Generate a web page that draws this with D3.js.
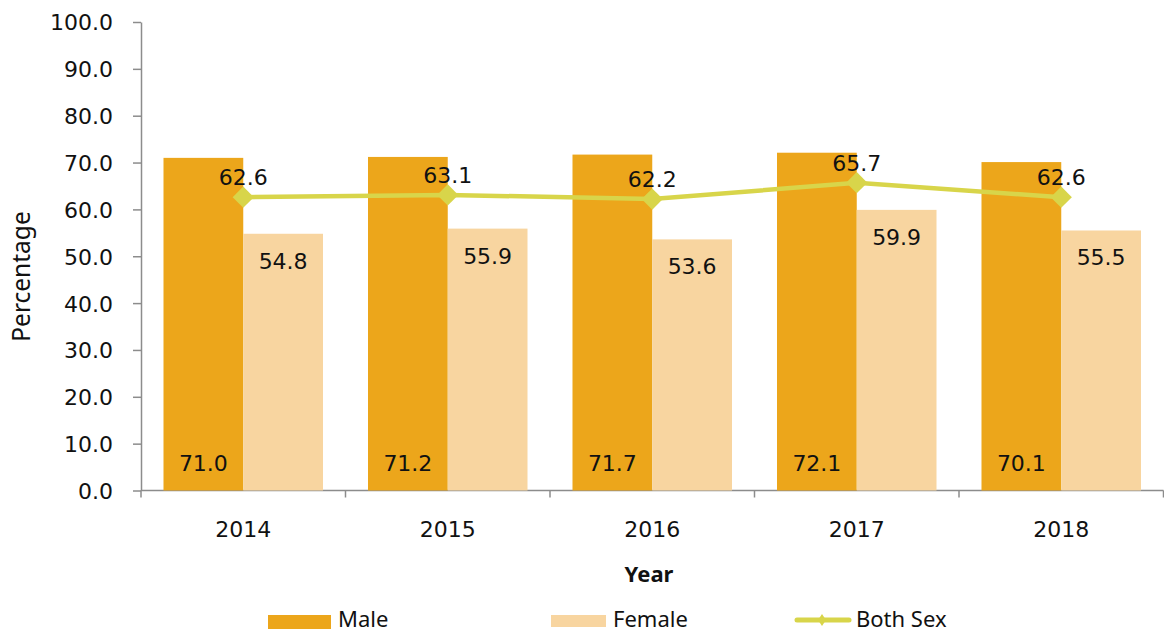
<html lang="en">
<head>
  <meta charset="utf-8"/>
  <script src="https://d3js.org/d3.v7.min.js"></script>
  <style>
  body { margin: 0; background: white; }
  * { font-family: "Noto Sans", sans-serif; }
  .axis path, .axis line { stroke: #8c8c8c; stroke-width: 1.5px; }
  .axis text, .num { font-family: "DejaVu Sans", sans-serif; font-size: 22px; fill: #111; }
  .leg { font-size: 22px; fill: #111; }
  </style>
</head>
<body>
  <svg id="chart" width="1164" height="634"></svg>
  <script>
    const years = ["2014", "2015", "2016", "2017", "2018"];
    const male = [71.0, 71.2, 71.7, 72.1, 70.1];
    const female = [54.8, 55.9, 53.6, 59.9, 55.5];
    const both = [62.6, 63.1, 62.2, 65.7, 62.6];
    const yTicks = [0, 10, 20, 30, 40, 50, 60, 70, 80, 90, 100];

    const svg = d3.select("#chart");
    const x = d3.scaleBand().domain(years).range([141, 1163.5]);
    const y = d3.scaleLinear().domain([0, 100]).range([490.5, 22]);
    const bw = x.bandwidth();
    const pad = bw * 0.11;
    const barW = (bw - 2 * pad) / 2;
    const cx = d => x(d) + bw / 2;

    // y axis
    const yAxis = svg.append("g").attr("class", "axis").attr("transform", "translate(141,0)")
      .call(d3.axisLeft(y).tickValues(yTicks).tickFormat(d3.format(".1f")).tickSize(8).tickPadding(20).tickSizeOuter(0));
    yAxis.selectAll("text").attr("dy", "0.36em");

    // x axis: ticks at category boundaries
    const xg = svg.append("g").attr("class", "axis");
    xg.append("line").attr("x1", 141).attr("x2", 1163.5).attr("y1", y(0)).attr("y2", y(0));
    const edges = years.map(d => x(d)).concat([x(years[years.length - 1]) + bw]);
    xg.selectAll("line.tk").data(edges).join("line").attr("class", "tk")
      .attr("x1", d => d).attr("x2", d => d)
      .attr("y1", y(0)).attr("y2", y(0) + 7);
    xg.selectAll("text").data(years).join("text")
      .attr("x", d => cx(d)).attr("y", 537).attr("text-anchor", "middle")
      .text(d => d);

    // bars
    svg.selectAll("rect.male").data(years).join("rect").attr("class", "male")
      .attr("x", d => x(d) + pad).attr("width", barW)
      .attr("y", (d, i) => y(male[i])).attr("height", (d, i) => y(0) - y(male[i]))
      .attr("fill", "#eca61b");
    svg.selectAll("rect.female").data(years).join("rect").attr("class", "female")
      .attr("x", d => x(d) + pad + barW).attr("width", barW)
      .attr("y", (d, i) => y(female[i])).attr("height", (d, i) => y(0) - y(female[i]))
      .attr("fill", "#f8d5a0");

    // bar labels
    svg.selectAll("text.ml").data(years).join("text").attr("class", "num ml")
      .attr("x", d => x(d) + pad + barW / 2).attr("y", 470.5).attr("text-anchor", "middle")
      .text((d, i) => male[i].toFixed(1));
    svg.selectAll("text.fl").data(years).join("text").attr("class", "num fl")
      .attr("x", d => x(d) + pad + barW * 1.5).attr("y", (d, i) => y(female[i]) + 35).attr("text-anchor", "middle")
      .text((d, i) => female[i].toFixed(1));

    // line
    const line = d3.line().x((d, i) => cx(years[i])).y(d => y(d));
    svg.append("path").datum(both).attr("d", line).attr("fill", "none")
      .attr("stroke", "#d8d54a").attr("stroke-width", 4.5);
    svg.selectAll("path.dia").data(both).join("path").attr("class", "dia")
      .attr("transform", (d, i) => "translate(" + cx(years[i]) + "," + y(d) + ") rotate(45)")
      .attr("d", "M-7.5,-7.5H7.5V7.5H-7.5Z").attr("fill", "#d8d54a");
    svg.selectAll("text.bl").data(both).join("text").attr("class", "num bl")
      .attr("x", (d, i) => cx(years[i])).attr("y", d => y(d) - 12).attr("text-anchor", "middle")
      .text(d => d.toFixed(1));

    // axis titles
    svg.append("text").attr("x", 649).attr("y", 582).attr("text-anchor", "middle")
      .attr("font-size", 22).attr("font-weight", "bold").attr("fill", "#111").text("Year");
    svg.append("text").attr("transform", "translate(29.5,276.5) rotate(-90)").attr("text-anchor", "middle")
      .attr("font-family", "Liberation Sans").attr("font-size", 24.5).attr("fill", "#111").text("Percentage");

    // legend
    const leg = svg.append("g");
    leg.append("rect").attr("x", 268).attr("y", 615).attr("width", 63).attr("height", 14).attr("fill", "#eca61b");
    leg.append("text").attr("class", "leg").attr("x", 338).attr("y", 627).text("Male");
    leg.append("rect").attr("x", 551).attr("y", 615).attr("width", 55).attr("height", 12).attr("fill", "#f8d5a0");
    leg.append("text").attr("class", "leg").attr("x", 613).attr("y", 627).text("Female");
    leg.append("line").attr("x1", 797).attr("x2", 849).attr("y1", 620).attr("y2", 620)
      .attr("stroke", "#d8d54a").attr("stroke-width", 5).attr("stroke-linecap", "round");
    leg.append("path").attr("transform", "translate(822,620)")
      .attr("d", "M0,-6L4,0L0,6L-4,0Z").attr("fill", "#d8d54a");
    leg.append("text").attr("class", "leg").attr("x", 856).attr("y", 627).text("Both Sex");
  </script>
</body>
</html>
